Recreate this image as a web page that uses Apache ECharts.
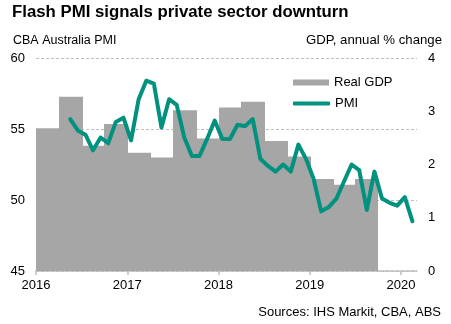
<!DOCTYPE html>
<html>
<head>
<meta charset="utf-8">
<title>Flash PMI signals private sector downturn</title>
<script src="https://cdn.jsdelivr.net/npm/echarts@6/dist/echarts.min.js"></script>
<style>
  html, body { margin: 0; padding: 0; background: #ffffff; }
  #chart { width: 451px; height: 324px; }
</style>
</head>
<body>
<div id="chart"></div>
<script>
// Real GDP, annual % change, by quarter
const gdpQuarters = ['2016Q1', '2016Q2', '2016Q3', '2016Q4',
                     '2017Q1', '2017Q2', '2017Q3', '2017Q4',
                     '2018Q1', '2018Q2', '2018Q3', '2018Q4',
                     '2019Q1', '2019Q2', '2019Q3'];
const gdpGrowth = [2.68, 3.27, 2.35, 2.76,
                   2.22, 2.13, 3.02, 2.49,
                   3.07, 3.18, 2.44, 2.15,
                   1.73, 1.62, 1.73];

// CBA Australia composite PMI, monthly
const pmiMonths = ['2016-05', '2016-06', '2016-07', '2016-08', '2016-09', '2016-10', '2016-11', '2016-12',
                   '2017-01', '2017-02', '2017-03', '2017-04', '2017-05', '2017-06', '2017-07', '2017-08',
                   '2017-09', '2017-10', '2017-11', '2017-12',
                   '2018-01', '2018-02', '2018-03', '2018-04', '2018-05', '2018-06', '2018-07', '2018-08',
                   '2018-09', '2018-10', '2018-11', '2018-12',
                   '2019-01', '2019-02', '2019-03', '2019-04', '2019-05', '2019-06', '2019-07', '2019-08',
                   '2019-09', '2019-10', '2019-11', '2019-12',
                   '2020-01', '2020-02'];
const pmiValues = [55.7, 54.9, 54.6, 53.5, 54.4, 54.0, 55.5, 55.8,
                   54.2, 57.1, 58.4, 58.2, 55.1, 57.1, 56.7, 54.4,
                   53.1, 53.1, 54.3, 55.6,
                   54.3, 54.3, 55.3, 55.2, 55.7, 52.9, 52.4, 52.0,
                   52.5, 52.0, 53.9, 52.9,
                   51.5, 49.2, 49.5, 50.1, 51.3, 52.5, 52.1, 49.3,
                   52.0, 50.1, 49.8, 49.6,
                   50.2, 48.5];

// Year labels on the horizontal axis
const yearLabels = [2016, 2017, 2018, 2019, 2020];

const BASE_YEAR = yearLabels[0];
const TEAL = '#00927f';
const BAR_GREY = '#a6a6a6';
const FONT = 'Liberation Sans, Arial, sans-serif';

// x positions are months elapsed since January of the base year
function monthsFromYm(ym) {
  const [y, m] = ym.split('-').map(Number);
  return (y - BASE_YEAR) * 12 + (m - 1);
}
function quarterStart(q) {
  const y = Number(q.slice(0, 4));
  const n = Number(q.slice(5));
  return (y - BASE_YEAR) * 12 + (n - 1) * 3;
}

// each quarter's block spans its three months
const gdpData = gdpQuarters.map((q, i) => {
  const s = quarterStart(q);
  return [s, s + 3, gdpGrowth[i]];
});
const lastQuarter = gdpData.length - 1;
// monthly readings sit in the middle of their month
const pmiData = pmiMonths.map((m, i) => [monthsFromYm(m) + 0.5, pmiValues[i]]);
const yearTickValues = yearLabels.map(y => (y - BASE_YEAR) * 12);

const chart = echarts.init(document.getElementById('chart'), null, { renderer: 'canvas' });

chart.setOption({
  animation: false,
  backgroundColor: '#ffffff',
  textStyle: { fontFamily: FONT, color: '#000000' },
  title: [
    {
      text: 'Flash PMI signals private sector downturn',
      left: 12, top: 4, padding: 0,
      textStyle: { fontFamily: FONT, fontWeight: 'bold', fontSize: 16.8, color: '#000000' }
    },
    {
      text: 'CBA Australia PMI',
      left: 13, top: 34, padding: 0,
      textStyle: { fontFamily: FONT, fontWeight: 'normal', fontSize: 12.5, color: '#000000' }
    },
    {
      text: 'GDP, annual % change',
      right: 9, top: 34, padding: 0,
      textStyle: { fontFamily: FONT, fontWeight: 'normal', fontSize: 13.2, color: '#000000' }
    },
    {
      text: 'Sources: IHS Markit, CBA, ABS',
      right: 10, top: 306, padding: 0,
      textStyle: { fontFamily: FONT, fontWeight: 'normal', fontSize: 13, color: '#000000' }
    }
  ],
  legend: [
    {
      left: 293, top: 76, padding: 0,
      itemWidth: 36, itemHeight: 6,
      selectedMode: false,
      data: [{ name: 'Real GDP', icon: 'rect' }],
      textStyle: { fontFamily: FONT, fontSize: 13, color: '#000000' }
    },
    {
      left: 293, top: 97, padding: 0,
      itemWidth: 37, itemHeight: 4,
      selectedMode: false,
      data: [{ name: 'PMI', icon: 'roundRect' }],
      textStyle: { fontFamily: FONT, fontSize: 13, color: '#000000' }
    }
  ],
  grid: { left: 36, right: 34, top: 58, bottom: 53, containLabel: false },
  xAxis: {
    type: 'value',
    min: 0,
    max: 50.1,
    interval: 12,
    axisLine: { show: true, lineStyle: { color: '#bfbfbf', width: 1.5 } },
    axisTick: { show: true, length: 4, customValues: yearTickValues, lineStyle: { color: '#bfbfbf', width: 1.5 } },
    axisLabel: {
      customValues: yearTickValues,
      margin: 8,
      fontFamily: FONT, fontSize: 13, color: '#000000',
      formatter: v => String(BASE_YEAR + Math.round(v / 12))
    },
    splitLine: { show: false }
  },
  yAxis: [
    {
      type: 'value',
      min: 45, max: 60, interval: 5,
      axisLine: { show: false },
      axisTick: { show: false },
      axisLabel: { margin: 11, fontFamily: FONT, fontSize: 13, color: '#000000' },
      splitLine: { show: true, lineStyle: { color: '#bfbfbf', type: [3, 2], width: 1 } }
    },
    {
      type: 'value',
      min: 0, max: 4, interval: 1,
      position: 'right',
      axisLine: { show: false },
      axisTick: { show: false },
      axisLabel: { margin: 11, fontFamily: FONT, fontSize: 13, color: '#000000' },
      splitLine: { show: false }
    }
  ],
  series: [
    {
      name: 'Real GDP',
      type: 'custom',
      yAxisIndex: 1,
      itemStyle: { color: BAR_GREY },
      encode: { x: [0, 1], y: 2 },
      data: gdpData,
      renderItem: function (params, api) {
        const top = api.coord([api.value(0), api.value(2)]);
        const base = api.coord([api.value(1), 0]);
        const x0 = Math.round(top[0]);
        // each block runs one pixel under its neighbour so adjacent quarters join cleanly
        const x1 = Math.round(base[0]) + (params.dataIndex < lastQuarter ? 1 : 0);
        return {
          type: 'rect',
          z2: -params.dataIndex,
          shape: { x: x0, y: top[1], width: x1 - x0, height: base[1] - top[1] },
          style: { fill: BAR_GREY, stroke: 'rgba(0,0,0,0)', lineWidth: 0 }
        };
      },
      z: 2
    },
    {
      name: 'PMI',
      type: 'line',
      yAxisIndex: 0,
      data: pmiData,
      symbol: 'none',
      itemStyle: { color: TEAL },
      lineStyle: { color: TEAL, width: 4, join: 'round', cap: 'round' },
      z: 3
    }
  ]
});
</script>
</body>
</html>
